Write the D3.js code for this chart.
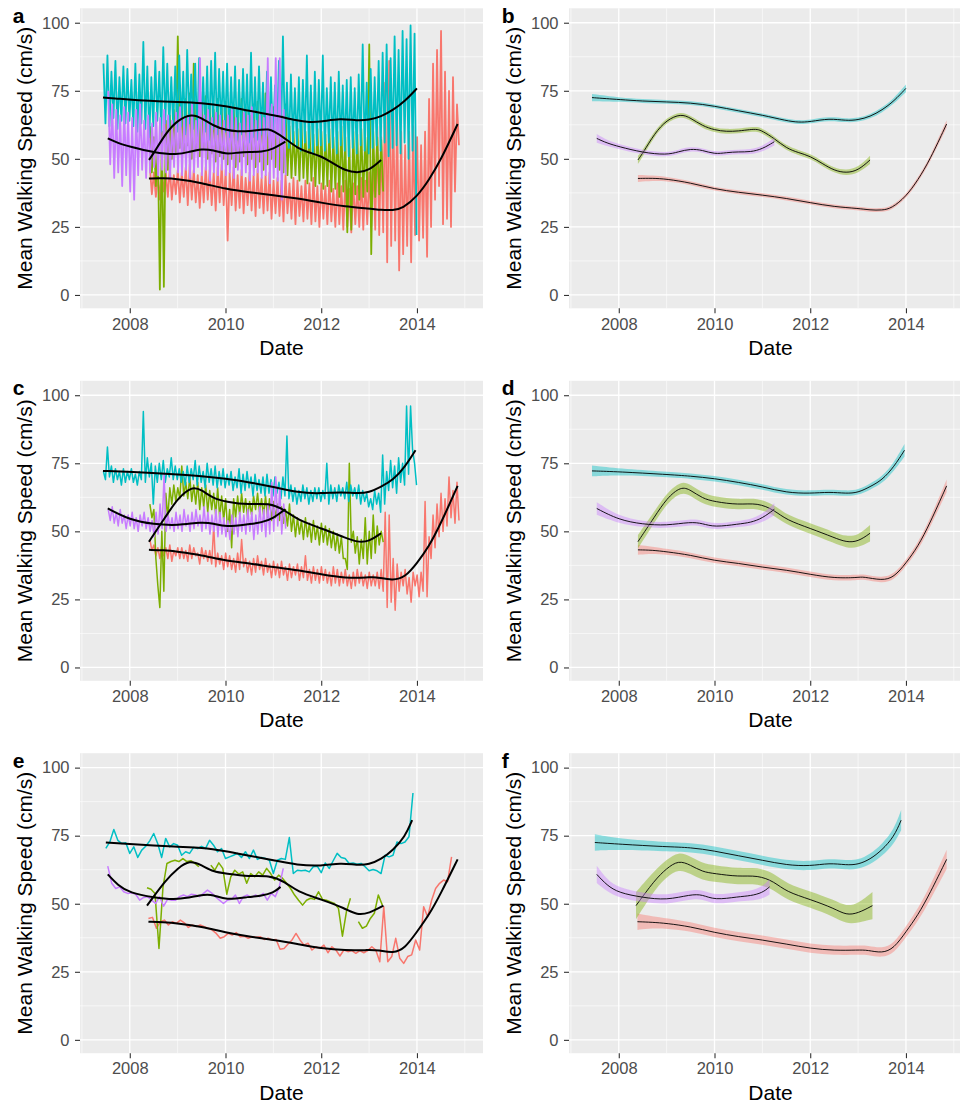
<!DOCTYPE html>
<html lang="en">
<head>
<meta charset="utf-8">
<title>Mean walking speed</title>
<style>
  body { margin: 0; background: #fff; font-family: "Liberation Sans", Arial, Helvetica, sans-serif; }
  .tick text { fill: #4d4d4d; font-size: 16.5px; font-family: "Liberation Sans", Arial, sans-serif; }
  .tick line { stroke: #333; }
  .axis-title { font-size: 21px; fill: #000; }
  .panel-tag { font-size: 21px; font-weight: bold; fill: #000; }
</style>
</head>
<body>
<svg id="chart" width="960" height="1103"></svg>
<script src="https://d3js.org/d3.v7.min.js"></script>
<script>
// group order as drawn by ggplot: red, green, cyan, purple
var colours = ["#F8766D", "#7CAE00", "#00BFC4", "#C77CFF"];
var yTicks = [0, 25, 50, 75, 100];
var yMinor = [12.5, 37.5, 62.5, 87.5];
var xTicks = [2008, 2010, 2012, 2014];
var xMinor = [2007, 2009, 2011, 2013, 2015];

// ---- panel a: daily values, monthly high / low envelope ----
var startA = [2008.42, 2008.42, 2007.45, 2007.55];
var redAHi = [47,45,44,46,45,47,44,46,
  45,47,48,46,44,45,47,46,45,47,48,46,
  45,47,44,46,43,45,44,46,43,44,45,42,
  43,42,44,41,43,42,40,42,41,43,40,41,
  40,42,39,41,40,42,39,41,40,43,42,45,
  50,62,58,78,86,70,65,60,55,60,62,58,
  55,60,72,85,90,97,82,75,80,70];
var redALo = [37,36,35,38,36,35,37,34,
  36,33,35,34,32,34,35,33,31,34,33,20,
  33,31,32,30,33,31,29,32,30,31,28,30,
  29,27,30,28,26,29,27,28,26,27,25,28,
  26,27,25,26,24,25,23,26,25,24,26,25,
  24,22,23,12,18,20,9,15,18,12,22,20,
  21,14,25,35,40,26,28,25,38,55];
var greenAHi = [62,58,55,60,64,66,68,95,
  70,72,74,85,71,69,73,70,68,72,69,71,
  68,70,67,72,69,66,70,71,68,74,67,69,
  68,66,70,62,60,61,63,60,62,59,61,60,
  59,61,58,60,62,58,57,60,59,61,58,92,
  60,58,57];
var greenALo = [45,40,2,3,46,50,52,54,
  52,55,50,53,51,54,50,52,49,51,50,48,
  50,47,49,51,48,50,47,49,46,48,50,47,
  46,45,44,43,44,42,43,41,42,40,41,39,
  40,38,39,36,38,23,24,37,35,36,38,15,
  36,37,38];
var cyanAHi = [85,88,82,86,80,84,
  83,79,85,81,93,84,80,86,82,91,85,80,
  84,88,82,90,81,85,87,80,84,86,89,83,
  82,85,80,84,79,83,81,89,80,84,78,82,
  80,77,86,95,78,81,76,80,79,88,77,82,
  79,88,76,80,78,82,77,79,80,76,81,92,
  78,83,80,86,89,92,87,95,90,97,94,99,
  96];
var cyanALo = [63,62,65,61,64,63,
  64,62,60,63,61,58,62,64,60,63,61,62,
  60,62,59,63,61,58,62,60,57,61,59,62,
  60,58,61,57,59,60,56,58,57,59,55,58,
  56,58,55,57,54,56,55,53,56,54,52,55,
  55,53,56,54,52,55,53,51,54,52,55,53,
  52,54,55,53,56,51,54,55,52,56,50,53,
  22];
var purpleAHi = [75,70,68,66,69,
  67,65,68,70,64,66,63,67,65,68,66,64,
  67,69,65,66,70,64,87,66,68,65,67,66,
  64,66,68,65,63,67,66,69,64,66,65,87,
  70,87,87,68];
var purpleALo = [48,43,45,40,44,
  38,35,44,46,43,45,47,44,46,45,43,47,
  45,44,46,43,45,47,44,46,42,45,44,46,
  44,45,43,46,44,45,42,44,45,43,44,41,
  43,42,35,44];

// ---- panel c: weekly values, monthly high / low envelope ----
var redCHi = [47,45,44,45,44,45,43,44,
  44,43,45,44,42,44,43,43,52,42,41,42,
  41,40,42,47,40,39,40,41,39,40,38,39,
  38,39,37,38,37,38,37,41,36,37,36,37,
  36,35,37,36,35,36,34,35,36,35,34,35,
  34,35,36,57,56,40,38,35,36,33,35,34,
  35,61,48,56,60,64,62,70,65,68];
var redCLo = [43,41,40,41,40,39,41,40,
  40,39,40,41,38,40,39,38,37,38,36,37,
  36,35,36,37,35,34,35,36,34,35,33,34,
  33,34,32,33,34,32,33,32,31,32,31,32,
  31,30,31,30,31,30,29,30,31,30,29,30,
  30,29,28,22,24,21,28,30,27,24,30,26,
  28,26,40,44,48,50,52,55,53,54];
var greenCHi = [60,58,30,50,64,66,67,66,
  74,68,70,67,68,66,67,65,64,66,63,62,
  58,62,63,64,62,61,63,64,62,63,62,61,
  60,59,58,60,56,55,54,55,53,54,52,53,
  52,51,50,49,48,40,75,50,48,47,55,50,
  56,52,50];
var greenCLo = [55,40,22,28,55,60,61,62,
  63,62,61,60,58,59,57,58,56,55,54,50,
  44,55,56,57,55,56,58,57,56,55,54,55,
  54,53,52,50,48,49,47,48,46,47,45,46,
  45,44,43,42,40,36,46,42,38,40,38,40,
  42,45,46];
var cyanCHi = [72,81,74,73,72,73,
  72,73,71,72,94,77,75,74,75,76,73,77,
  74,73,72,74,73,76,74,72,75,73,74,72,
  73,71,72,70,73,71,72,70,71,69,70,71,
  69,70,68,70,85,67,66,65,67,66,65,66,
  66,65,75,67,66,67,66,68,67,66,67,65,
  64,62,65,64,78,72,76,74,77,75,96,96,
  75];
var cyanCLo = [69,70,68,69,67,68,
  69,68,67,69,68,70,60,68,69,68,70,69,
  69,68,67,68,69,67,68,66,68,67,66,67,
  66,67,65,66,64,65,66,63,65,64,63,64,
  63,64,62,63,62,61,60,61,62,60,61,62,
  61,62,60,62,61,63,62,61,63,62,60,61,
  59,58,60,57,60,65,66,64,68,67,71,80,
  67];
var purpleCHi = [58,59,57,58,56,
  56,57,55,56,57,55,54,57,60,71,56,55,
  57,56,58,56,57,58,56,59,57,56,58,57,
  55,54,56,55,57,56,58,57,56,59,58,60,
  68,70,66,60];
var purpleCLo = [54,53,52,53,51,
  52,51,50,52,51,50,48,49,51,50,51,50,
  51,50,52,50,51,52,50,51,49,50,48,49,
  48,47,49,48,50,49,50,47,49,50,48,49,
  50,52,49,51];

// ---- panel e: monthly values (null = missing month) ----
var startE = [2008.39, 2008.36, 2007.5, 2007.54];
var redE = [44.6,45.0,41.0,43.4,44.0,42.2,43.4,42.8,44.0,43.0,
  41.3,42.2,41.6,42.2,41.6,41.0,40.3,39.1,37.3,37.9,
  39.1,38.5,39.4,37.9,38.1,37.3,37.9,37.7,37.9,36.9,
  37.3,36.7,36.9,33.3,33.6,35.2,36.7,39.1,36.7,34.8,
  35.5,33.0,34.2,33.6,34.8,32.0,34.2,33.0,30.8,33.0,
  32.4,32.8,31.8,32.8,32.0,32.8,34.2,33.0,28.7,48.9,
  28.7,30.6,37.3,30.0,28.1,30.6,31.2,36.7,33.0,48.9,
  45.2,51.3,55.6,57.5,58.7,58.1,67.2];
var greenE = [55.9,55.3,53.8,33.6,56.0,64.8,65.5,66.0,65.5,66.6,
  65.5,65.8,64.8,63.6,null,null,64.2,62.3,65.0,63.0,
  53.5,59.9,62.3,60.9,61.7,57.5,61.1,59.9,61.7,60.5,
  63.0,61.1,58.7,60.5,59.3,57.5,55.6,53.2,51.3,49.5,
  51.3,52.0,51.6,54.4,51.6,51.3,50.7,50.1,48.3,38.1,
  47.1,52.0,null,43.4,41.0,41.8,44.6,46.5,53.2,49.5];
var cyanE = [70.3,72.7,77.3,73.3,72.1,72.4,68.5,70.9,67.0,69.7,
  71.1,73.1,75.8,72.1,67.0,74.0,70.9,72.1,71.5,67.8,
  69.1,68.5,70.7,70.3,71.1,70.3,73.3,71.5,69.1,70.3,
  66.6,67.2,67.8,68.5,67.0,69.1,66.6,69.7,66.3,67.0,
  66.6,66.0,61.1,66.0,66.6,66.3,74.3,61.1,62.3,62.1,
  62.3,61.7,63.6,63.8,61.4,65.0,63.0,65.8,68.5,67.0,
  66.6,64.8,65.0,64.5,64.8,63.6,62.1,62.6,62.1,61.1,
  67.8,67.2,67.8,72.7,72.1,72.7,74.6,90.7];
var purpleE = [63.8,57.5,55.6,56.2,54.4,53.8,54.0,53.5,51.3,52.3,
  52.6,51.3,50.1,52.6,49.1,51.6,51.3,51.3,52.6,53.2,
  52.6,53.5,53.2,52.6,53.8,55.0,54.0,52.6,51.3,50.1,
  51.3,51.6,53.2,50.1,52.6,53.2,52.3,53.2,52.6,53.8,
  51.3,53.8,52.6,56.2,63.0];

// ---- loess fits: [year, fitted value, half width of the confidence band] ----
var fitRedAB = [[2008.40,42.8,1.3],[2008.7,42.9,1.0],[2009,42.6,0.8],[2009.5,41.2,0.7],[2010,38.9,0.7],[2010.5,37.7,0.7],[2011,36.7,0.7],[2011.5,35.5,0.7],[2012,33.9,0.7],[2012.5,32.4,0.7],[2013,31.8,0.7],[2013.25,31.2,0.7],[2013.5,31.1,0.7],[2013.7,31.8,0.7],[2014,36.1,0.8],[2014.25,42.2,0.9],[2014.5,49.6,1.0],[2014.85,62.8,1.4]];
var fitGreenAB = [[2008.40,49.6,1.5],[2008.5,52.0,1.2],[2008.75,59.4,1.0],[2009,64.3,0.9],[2009.3,66.6,0.9],[2009.5,65.0,0.9],[2009.75,62.1,0.9],[2010,60.6,0.9],[2010.25,60.0,0.9],[2010.5,60.2,0.9],[2010.75,60.8,0.9],[2010.9,60.9,0.9],[2011,60.2,0.9],[2011.25,57.5,0.9],[2011.5,53.9,0.9],[2011.75,52.3,0.9],[2012,51.0,0.9],[2012.25,48.3,0.9],[2012.5,45.7,0.9],[2012.75,44.8,1.0],[2013,45.7,1.1],[2013.25,49.6,1.5]];
var fitCyanAB = [[2007.44,72.5,1.3],[2007.75,72.1,1.0],[2008,71.8,0.8],[2008.5,71.2,0.7],[2009,70.9,0.7],[2009.5,70.6,0.7],[2010,69.4,0.7],[2010.5,67.6,0.7],[2011,66.1,0.7],[2011.5,64.0,0.7],[2011.75,63.4,0.7],[2012,63.6,0.7],[2012.4,64.9,0.7],[2012.75,64.0,0.7],[2013,64.3,0.7],[2013.25,65.5,0.8],[2013.5,67.9,0.9],[2013.75,71.2,1.0],[2014,75.9,1.4]];
var fitPurpleAB = [[2007.54,57.5,1.6],[2007.75,55.8,1.1],[2008,54.5,0.9],[2008.5,52.3,0.8],[2009,51.4,0.8],[2009.25,52.6,0.8],[2009.5,53.7,0.8],[2009.75,53.2,0.8],[2010,51.7,0.8],[2010.25,52.3,0.8],[2010.5,52.6,0.8],[2010.75,52.5,0.9],[2011,53.6,1.0],[2011.25,56.3,1.4]];

var fitRedCD = [[2008.40,43.2,1.8],[2008.7,43.1,1.3],[2009,42.5,1.1],[2009.5,41.3,1.0],[2010,39.2,1.0],[2010.5,38.3,1.0],[2011,36.8,1.0],[2011.5,35.8,1.0],[2012,34.2,1.0],[2012.5,32.8,1.0],[2013,33.0,1.0],[2013.1,33.4,1.0],[2013.5,31.9,1.0],[2013.75,33.1,1.1],[2014,38.3,1.2],[2014.25,44.4,1.4],[2014.5,52.9,1.6],[2014.85,66.7,2.3]];
var fitGreenCD = [[2008.40,46.2,2.5],[2008.75,55.4,2.0],[2009,62.1,2.0],[2009.3,66.6,2.0],[2009.5,65.2,2.0],[2009.75,62.1,2.0],[2010,60.9,1.9],[2010.5,59.7,1.9],[2010.9,60.5,1.9],[2011.25,57.8,1.9],[2011.5,54.2,1.9],[2012,51.1,1.9],[2012.5,47.7,2.0],[2012.75,46.0,2.1],[2013,46.2,2.3],[2013.25,49.3,3.0]];
var fitCyanCD = [[2007.44,72.2,2.0],[2008,71.9,1.2],[2009,70.9,1.0],[2009.5,70.3,1.0],[2010,69.4,1.0],[2010.5,68.0,1.0],[2011,66.4,1.0],[2011.5,64.2,1.0],[2012,63.9,1.0],[2012.4,64.5,1.0],[2012.75,63.9,1.0],[2013,64.2,1.0],[2013.25,66.4,1.1],[2013.5,68.8,1.3],[2013.75,73.7,1.5],[2013.97,79.8,2.3]];
var fitPurpleCD = [[2007.54,58.4,2.3],[2008,54.2,1.3],[2008.5,52.6,1.1],[2009,52.1,1.1],[2009.5,53.5,1.1],[2009.75,52.9,1.1],[2010,51.5,1.1],[2010.5,52.7,1.1],[2010.75,53.2,1.2],[2011,54.8,1.5],[2011.25,58.1,2.2]];

var fitRedEF = [[2008.39,43.4,3.0],[2008.7,43.2,2.2],[2009,42.8,1.9],[2009.5,41.6,1.7],[2010,39.4,1.7],[2010.5,37.9,1.7],[2011,36.7,1.7],[2011.5,35.2,1.7],[2012,33.6,1.7],[2012.5,32.8,1.7],[2013,33.0,1.7],[2013.2,33.0,1.7],[2013.5,31.8,1.7],[2013.75,33.6,1.8],[2014,39.7,2.0],[2014.25,45.8,2.3],[2014.5,53.8,2.6],[2014.85,66.3,3.5]];
var fitGreenEF = [[2008.36,49.3,5.0],[2008.75,58.7,3.5],[2009,63.0,3.2],[2009.25,66.0,3.2],[2009.5,64.2,3.2],[2009.75,61.7,3.1],[2010,61.1,3.0],[2010.5,59.9,3.0],[2010.9,60.5,3.0],[2011.25,58.1,3.0],[2011.5,54.4,3.0],[2012,51.6,3.0],[2012.5,48.3,3.1],[2012.75,45.8,3.2],[2013,46.5,3.5],[2013.3,49.3,5.0]];
var fitCyanEF = [[2007.5,72.5,3.0],[2008,71.9,2.0],[2009,70.9,1.7],[2009.5,70.7,1.7],[2010,69.4,1.7],[2010.5,67.6,1.7],[2011,66.0,1.7],[2011.5,64.2,1.7],[2012,63.8,1.7],[2012.4,65.0,1.7],[2012.75,64.2,1.7],[2013,64.4,1.7],[2013.25,66.3,1.9],[2013.5,69.7,2.2],[2013.75,74.6,2.6],[2013.9,80.7,3.7]];
var fitPurpleEF = [[2007.54,60.8,3.2],[2007.75,56.8,2.2],[2008,54.0,1.8],[2008.5,52.3,1.7],[2009,51.3,1.7],[2009.5,53.4,1.7],[2009.75,53.4,1.7],[2010,51.3,1.7],[2010.5,52.6,1.7],[2010.75,52.9,1.8],[2011,54.0,2.2],[2011.15,56.2,2.8]];

// ---- layout ----
var svg = d3.select('#chart');
var W = 403, H = 300;
var colLeft = [80, 569];
var rowTop = [8.3, 380.8, 753.2];

function makePanel(col, row, tag) {
    var g = svg.append('g')
        .attr('transform', 'translate(' + colLeft[col] + ',' + rowTop[row] + ')');
    var x = d3.scaleLinear().domain([2006.96, 2015.38]).range([0, W]);
    var y = d3.scaleLinear().domain([-4.9, 105.3]).range([H, 0]);

    g.append('rect').attr('width', W).attr('height', H).attr('fill', '#EBEBEB');

    g.selectAll('.ymin').data(yMinor).enter().append('line')
        .attr('x1', 0).attr('x2', W)
        .attr('y1', function(d) { return y(d); }).attr('y2', function(d) { return y(d); })
        .attr('stroke', '#fff').attr('stroke-width', 0.6);
    g.selectAll('.xmin').data(xMinor).enter().append('line')
        .attr('y1', 0).attr('y2', H)
        .attr('x1', function(d) { return x(d); }).attr('x2', function(d) { return x(d); })
        .attr('stroke', '#fff').attr('stroke-width', 0.6);
    g.selectAll('.ymaj').data(yTicks).enter().append('line')
        .attr('x1', 0).attr('x2', W)
        .attr('y1', function(d) { return y(d); }).attr('y2', function(d) { return y(d); })
        .attr('stroke', '#fff').attr('stroke-width', 1.3);
    g.selectAll('.xmaj').data(xTicks).enter().append('line')
        .attr('y1', 0).attr('y2', H)
        .attr('x1', function(d) { return x(d); }).attr('x2', function(d) { return x(d); })
        .attr('stroke', '#fff').attr('stroke-width', 1.3);

    var ya = g.append('g')
        .call(d3.axisLeft(y).tickValues(yTicks).tickSize(5).tickPadding(5.5).tickFormat(d3.format('d')));
    ya.select('.domain').remove();
    ya.selectAll('.tick line').attr('stroke', '#333').attr('stroke-width', 1.1);

    var xa = g.append('g')
        .attr('transform', 'translate(0,' + H + ')')
        .call(d3.axisBottom(x).tickValues(xTicks).tickSize(5).tickPadding(4.5).tickFormat(d3.format('d')));
    xa.select('.domain').remove();
    xa.selectAll('.tick line').attr('stroke', '#333').attr('stroke-width', 1.1);

    g.append('text').attr('class', 'axis-title')
        .attr('x', W / 2).attr('y', H + 46.7)
        .attr('text-anchor', 'middle')
        .text('Date');
    g.append('text').attr('class', 'axis-title')
        .attr('transform', 'translate(-48.3,' + (H / 2) + ') rotate(-90)')
        .attr('text-anchor', 'middle')
        .text('Mean Walking Speed (cm/s)');
    g.append('text').attr('class', 'panel-tag')
        .attr('x', -67.3).attr('y', 14.4)
        .text(tag);

    return { g: g, x: x, y: y };
}

function zigzag(start, hi, lo) {
    var pts = [];
    hi.forEach(function(h, i) {
        pts.push([start + i / 12, h]);
        pts.push([start + (i + 0.5) / 12, lo[i]]);
    });
    return pts;
}

function drawRaw(p, series, width) {
    var line = d3.line()
        .defined(function(d) { return d[1] !== null; })
        .x(function(d) { return p.x(d[0]); })
        .y(function(d) { return p.y(d[1]); });
    series.forEach(function(s, i) {
        p.g.append('path')
            .attr('d', line(s))
            .attr('fill', 'none')
            .attr('stroke', colours[i])
            .attr('stroke-width', width)
            .attr('stroke-linejoin', 'round');
    });
}

function drawFits(p, fits, withBand, lineWidth) {
    var curve = d3.curveBasis;
    var area = d3.area().curve(curve)
        .x(function(d) { return p.x(d[0]); })
        .y0(function(d) { return p.y(d[1] - d[2]); })
        .y1(function(d) { return p.y(d[1] + d[2]); });
    var line = d3.line().curve(curve)
        .x(function(d) { return p.x(d[0]); })
        .y(function(d) { return p.y(d[1]); });
    fits.forEach(function(f, i) {
        if (withBand) {
            p.g.append('path').attr('d', area(f))
                .attr('fill', colours[i]).attr('fill-opacity', 0.42);
        }
        p.g.append('path').attr('d', line(f))
            .attr('fill', 'none').attr('stroke', '#000').attr('stroke-width', lineWidth);
    });
}

function monthly(start, vals) {
    return vals.map(function(v, i) { return [start + i / 12, v]; });
}

// a
var pa = makePanel(0, 0, 'a');
drawRaw(pa, [
    zigzag(startA[0], redAHi, redALo),
    zigzag(startA[1], greenAHi, greenALo),
    zigzag(startA[2], cyanAHi, cyanALo),
    zigzag(startA[3], purpleAHi, purpleALo)
], 1.8);
drawFits(pa, [fitRedAB, fitGreenAB, fitCyanAB, fitPurpleAB], false, 2);

// b
var pb = makePanel(1, 0, 'b');
drawFits(pb, [fitRedAB, fitGreenAB, fitCyanAB, fitPurpleAB], true, 0.9);

// c
var pc = makePanel(0, 1, 'c');
drawRaw(pc, [
    zigzag(startA[0], redCHi, redCLo),
    zigzag(startA[1], greenCHi, greenCLo),
    zigzag(startA[2], cyanCHi, cyanCLo),
    zigzag(startA[3], purpleCHi, purpleCLo)
], 1.5);
drawFits(pc, [fitRedCD, fitGreenCD, fitCyanCD, fitPurpleCD], false, 2);

// d
var pd = makePanel(1, 1, 'd');
drawFits(pd, [fitRedCD, fitGreenCD, fitCyanCD, fitPurpleCD], true, 0.9);

// e
var pe = makePanel(0, 2, 'e');
drawRaw(pe, [
    monthly(startE[0], redE),
    monthly(startE[1], greenE),
    monthly(startE[2], cyanE),
    monthly(startE[3], purpleE)
], 1.5);
drawFits(pe, [fitRedEF, fitGreenEF, fitCyanEF, fitPurpleEF], false, 2);

// f
var pf = makePanel(1, 2, 'f');
drawFits(pf, [fitRedEF, fitGreenEF, fitCyanEF, fitPurpleEF], true, 0.9);
</script>
</body>
</html>
